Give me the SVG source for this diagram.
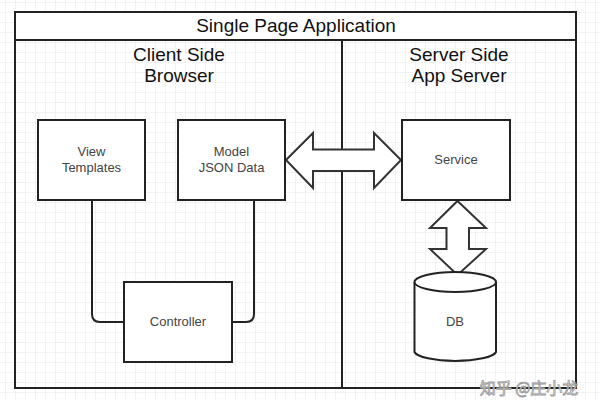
<svg xmlns="http://www.w3.org/2000/svg" width="600" height="400" viewBox="0 0 600 400">
<defs>
<pattern id="grid" width="10" height="10" patternUnits="userSpaceOnUse" x="5" y="2">
<path d="M10 0H0V10" fill="none" stroke="#e6e6e6" stroke-width="1"/>
</pattern>
<style>
.box{fill:#fff;stroke:#222;stroke-width:2}
.lbl{font-family:"Liberation Sans",Arial,sans-serif;font-size:13px;fill:#444;text-anchor:middle}
.hdr{font-family:"Liberation Sans",Arial,sans-serif;font-size:19px;fill:#111;text-anchor:middle}
.line{fill:none;stroke:#222;stroke-width:2}
.arrow{fill:#fff;stroke:#333;stroke-width:2;stroke-linejoin:miter}
</style>
</defs>
<rect width="600" height="400" fill="#fff"/>
<rect width="600" height="400" fill="url(#grid)"/>
<g id="frame">
<rect x="15" y="12" width="561" height="376" class="line"/>
<rect x="15" y="12" width="561" height="28" class="box"/>
<text x="296" y="32" class="hdr">Single Page Application</text>
<line x1="342" y1="40" x2="342" y2="388" class="line"/>
<text x="179" y="61" class="hdr">Client Side</text>
<text x="179" y="82" class="hdr">Browser</text>
<text x="459" y="61" class="hdr">Server Side</text>
<text x="459" y="82" class="hdr">App Server</text>
</g>
<g id="connectors">
<path d="M92 200V314Q92 322 100 322H124" class="line"/>
<path d="M254 200V314Q254 322 246 322H232" class="line"/>
<polygon id="arrow-model-service" class="arrow" points="286,160 313,133 313,149.5 374,149.5 374,133 401,160 374,188 374,171 313,171 313,188"/>
<polygon id="arrow-service-db" class="arrow" points="457.5,201 486,228 469,228 469,249 486,249 457.5,275 430,249 446.5,249 446.5,228 430,228"/>
</g>
<g id="view">
<rect x="38" y="120" width="107" height="80" class="box"/>
<text x="91.5" y="156" class="lbl">View</text>
<text x="91.5" y="172" class="lbl">Templates</text>
</g>
<g id="model">
<rect x="178" y="120" width="107" height="80" class="box"/>
<text x="231.5" y="156" class="lbl">Model</text>
<text x="231.5" y="172" class="lbl">JSON Data</text>
</g>
<g id="controller">
<rect x="124" y="282" width="108" height="80" class="box"/>
<text x="178" y="326" class="lbl">Controller</text>
</g>
<g id="service">
<rect x="402" y="120" width="108" height="80" class="box"/>
<text x="456" y="164" class="lbl">Service</text>
</g>
<g id="db">
<path d="M414.5 282V352A41 10 0 0 0 496 352V282" class="box"/>
<ellipse cx="455.25" cy="282" rx="40.75" ry="10" class="box"/>
<text x="455" y="326" class="lbl">DB</text>
</g>
<text x="529" y="394" font-family="'Noto Sans CJK SC',sans-serif" font-size="16" fill="#fff" fill-opacity="0.85" stroke="#999" stroke-width="0.8" text-anchor="middle">知乎 @庄小龙</text>
</svg>
